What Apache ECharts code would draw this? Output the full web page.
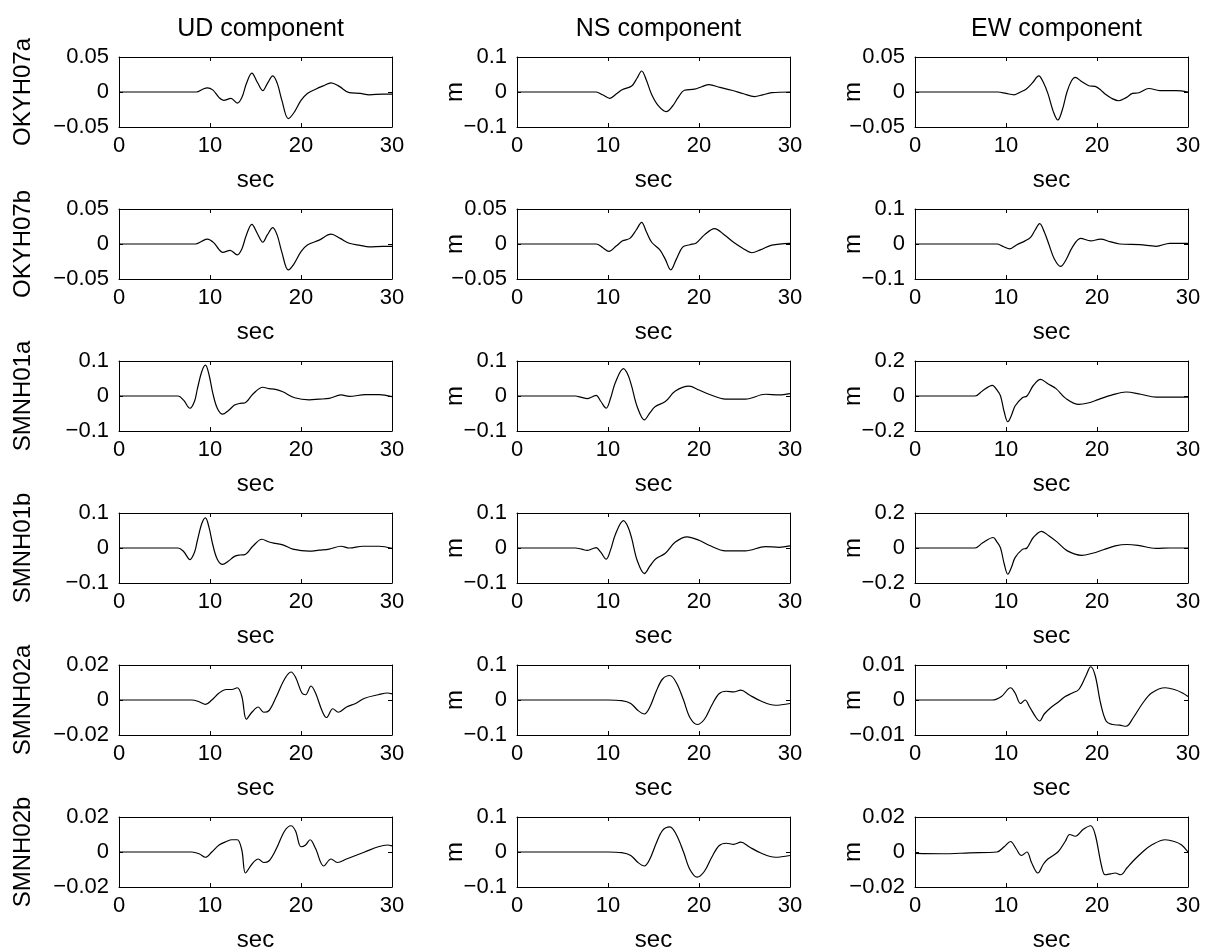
<!DOCTYPE html>
<html>
<head>
<meta charset="utf-8">
<script src="https://cdn.jsdelivr.net/npm/echarts@6/dist/echarts.min.js"></script>
<style>
  html, body { margin: 0; padding: 0; background: #fff; }
  #chart { width: 1208px; height: 950px; }
</style>
</head>
<body>
<div id="chart"></div>
<script>
// Station / component layout
const stationNames = ['OKYH07a', 'OKYH07b', 'SMNH01a', 'SMNH01b', 'SMNH02a', 'SMNH02b'];
const componentTitles = ['UD component', 'NS component', 'EW component'];
const xTicks = [0, 10, 20, 30];
// symmetric y limits (m) per station row: [UD, NS, EW]
const yLimits = [
  [0.05, 0.1, 0.05],
  [0.05, 0.05, 0.1],
  [0.1, 0.1, 0.2],
  [0.1, 0.1, 0.2],
  [0.02, 0.1, 0.01],
  [0.02, 0.1, 0.02]
];

// Waveforms: [time (s), displacement (m)]
const okyh07aUD = [[0,0],[5,0],[8.5,0],[9.2,0.004],[9.7,0.006],[10.3,0.003],[11.0,-0.008],[11.5,-0.012],[12.3,-0.009],[13.0,-0.016],[13.5,-0.008],[14.0,0.012],[14.6,0.027],[15.2,0.014],[15.8,0.002],[16.3,0.012],[16.9,0.023],[17.4,0.012],[17.9,-0.012],[18.6,-0.038],[19.2,-0.030],[20.0,-0.012],[20.7,-0.002],[21.6,0.004],[22.5,0.009],[23.3,0.013],[24.2,0.008],[25.3,-0.001],[26.5,-0.002],[27.5,-0.004],[29,-0.003],[30,-0.003]];
const okyh07aNS = [[0,0],[5,0],[8.7,0],[9.4,-0.008],[10.2,-0.018],[10.9,-0.006],[11.6,0.007],[12.6,0.017],[13.2,0.04],[13.7,0.06],[14.2,0.035],[14.8,-0.007],[15.5,-0.038],[16.4,-0.056],[17.1,-0.04],[17.7,-0.016],[18.4,0.005],[19.5,0.008],[20.3,0.015],[21.1,0.021],[22.3,0.013],[23.6,0.005],[24.9,-0.005],[26.1,-0.013],[27.0,-0.008],[28,-0.002],[30,0]];
const okyh07aEW = [[0,0],[5,0],[9.1,0],[10.0,-0.002],[10.9,-0.004],[11.6,0.0],[12.2,0.004],[12.9,0.013],[13.6,0.023],[14.1,0.014],[14.6,-0.002],[15.2,-0.028],[15.7,-0.04],[16.2,-0.025],[16.7,0.0],[17.2,0.016],[17.6,0.021],[18.3,0.015],[19.1,0.009],[19.8,0.008],[20.4,0.003],[20.9,-0.003],[21.6,-0.009],[22.4,-0.0125],[23.2,-0.008],[23.9,-0.002],[24.6,-0.001],[25.7,0.005],[26.9,0.002],[28.7,0.002],[30,0]];

const okyh07bUD = [[0,0],[5,0],[8.4,0],[9.1,0.004],[9.7,0.007],[10.4,0.002],[11.0,-0.008],[11.4,-0.012],[12.2,-0.009],[13.0,-0.0155],[13.5,-0.007],[14.0,0.013],[14.6,0.028],[15.2,0.015],[15.8,0.0025],[16.3,0.013],[16.9,0.0235],[17.4,0.012],[17.9,-0.012],[18.6,-0.037],[19.2,-0.029],[20.0,-0.011],[20.7,-0.0015],[22.0,0.0055],[23.3,0.014],[24.3,0.008],[25.3,0.001],[26.5,-0.002],[27.5,-0.004],[29,-0.0035],[30,-0.0035]];
const okyh07bNS = [[0,0],[5,0],[8.7,0],[9.4,-0.005],[10.1,-0.0105],[10.9,-0.003],[11.6,0.0045],[12.4,0.008],[13.1,0.02],[13.7,0.031],[14.2,0.018],[14.8,0.0025],[15.7,-0.0085],[16.3,-0.022],[16.9,-0.037],[17.5,-0.022],[18.2,-0.0045],[19.0,-0.001],[19.7,0.0015],[20.6,0.013],[21.7,0.022],[22.8,0.013],[23.8,0.0025],[24.8,-0.006],[25.8,-0.0125],[26.8,-0.008],[28,-0.0015],[30,0.001]];
const okyh07bEW = [[0,0],[5,0],[9.0,0],[9.7,-0.007],[10.4,-0.014],[11.2,-0.002],[12.1,0.009],[12.7,0.019],[13.2,0.04],[13.7,0.058],[14.2,0.035],[14.7,0],[15.3,-0.042],[16.0,-0.064],[16.6,-0.045],[17.3,-0.009],[18.2,0.016],[19.3,0.009],[20.4,0.014],[21.4,0.007],[22.5,0],[24.7,-0.002],[26.5,-0.0065],[28,0.002],[30,0.002]];

const smnh01aUD = [[0,0],[5,0],[6.5,0],[7.1,-0.012],[7.8,-0.035],[8.3,-0.015],[8.6,0.019],[9.1,0.07],[9.5,0.088],[9.9,0.06],[10.3,0.009],[10.8,-0.035],[11.4,-0.052],[12.0,-0.042],[12.7,-0.026],[13.3,-0.021],[13.8,-0.02],[14.7,0.005],[15.8,0.025],[16.5,0.021],[17.2,0.019],[18.0,0.012],[19.3,-0.005],[20.9,-0.011],[22.0,-0.009],[23.1,-0.007],[24.4,0.003],[25.3,-0.001],[27.1,0.004],[28.6,0.004],[30,-0.002]];
const smnh01aNS = [[0,0],[5,0],[6.4,0],[7.1,-0.004],[7.7,-0.0075],[8.3,-0.002],[8.7,0.002],[9.2,-0.015],[9.8,-0.035],[10.3,-0.005],[10.8,0.038],[11.7,0.078],[12.2,0.06],[12.6,0.028],[13.2,-0.03],[14.0,-0.068],[14.6,-0.048],[15.2,-0.03],[16.3,-0.016],[17.4,0.014],[18.9,0.028],[20.0,0.017],[21.1,0.005],[22.9,-0.009],[25.1,-0.009],[27.3,0.005],[28.8,0.003],[30,0.007]];
const smnh01aEW = [[0,0],[5,0],[6.6,0],[7.4,0.029],[8.5,0.061],[9.0,0.035],[9.4,0],[9.8,-0.09],[10.2,-0.147],[10.6,-0.11],[11.0,-0.057],[11.8,-0.01],[12.3,0],[13.0,0.06],[13.8,0.095],[14.6,0.07],[15.5,0.042],[16.6,-0.015],[18.0,-0.048],[19.0,-0.04],[20.2,-0.019],[21.6,0.005],[23.2,0.023],[24.8,0.01],[26.5,-0.006],[30,-0.006]];

const smnh01bUD = [[0,0],[5,0],[6.5,0],[7.1,-0.01],[7.8,-0.033],[8.3,-0.012],[8.6,0.02],[9.1,0.07],[9.5,0.086],[9.9,0.058],[10.3,0.01],[10.8,-0.032],[11.4,-0.047],[12.0,-0.038],[12.7,-0.024],[13.3,-0.02],[13.8,-0.019],[14.7,0.005],[15.7,0.025],[16.5,0.017],[17.2,0.013],[18.0,0.009],[19.1,-0.003],[20.9,-0.009],[22.0,-0.006],[23.1,-0.003],[24.4,0.005],[25.3,0],[26.8,0.005],[28.6,0.005],[30,-0.001]];
const smnh01bNS = [[0,0],[5,0],[6.4,0],[7.1,-0.003],[7.7,-0.007],[8.3,-0.002],[8.7,0.001],[9.2,-0.012],[9.8,-0.032],[10.3,-0.004],[10.8,0.038],[11.7,0.078],[12.2,0.06],[12.6,0.028],[13.2,-0.035],[14.0,-0.073],[14.6,-0.052],[15.2,-0.032],[16.3,-0.015],[17.4,0.017],[18.7,0.032],[20.0,0.022],[21.1,0.008],[22.9,-0.008],[25.1,-0.008],[27.3,0.004],[28.8,0.002],[30,0.006]];
const smnh01bEW = [[0,0],[5,0],[6.6,0],[7.4,0.028],[8.6,0.06],[9.0,0.035],[9.4,0],[9.8,-0.09],[10.2,-0.15],[10.6,-0.11],[11.0,-0.055],[11.8,-0.008],[12.3,0],[13.0,0.06],[13.9,0.095],[14.7,0.07],[15.6,0.035],[16.7,-0.015],[18.3,-0.042],[19.5,-0.03],[20.7,-0.01],[22.0,0.012],[23.3,0.02],[24.5,0.015],[26.5,-0.002],[28,0],[30,0]];

const smnh02aUD = [[0,0],[5,0],[8.0,0],[8.8,-0.001],[9.5,-0.0025],[10.2,0],[11.0,0.004],[11.8,0.006],[12.4,0.006],[13.0,0.007],[13.5,0.002],[14.0,-0.011],[14.6,-0.007],[15.3,-0.004],[15.9,-0.007],[16.5,-0.006],[17.3,0.002],[18.2,0.012],[18.9,0.016],[19.4,0.013],[20.1,0.004],[20.5,0.003],[21.1,0.008],[21.6,0.004],[22.3,-0.006],[22.8,-0.01],[23.5,-0.005],[24.1,-0.007],[25.0,-0.004],[26.0,-0.002],[27.0,0.001],[28.5,0.003],[29.5,0.004],[30,0.0035]];
const smnh02aNS = [[0,0],[5,0],[10,0],[11.5,-0.002],[12.5,-0.01],[13.3,-0.03],[14.0,-0.04],[14.6,-0.02],[15.3,0.025],[16.0,0.06],[16.8,0.07],[17.5,0.05],[18.3,0.0],[19.0,-0.05],[19.8,-0.07],[20.6,-0.055],[21.4,-0.015],[22.2,0.018],[23.0,0.025],[23.8,0.023],[24.6,0.028],[25.5,0.015],[26.8,-0.003],[28.4,-0.015],[30,-0.01]];
const smnh02aEW = [[0,0],[5,0],[8.5,0],[9.5,0.001],[10.5,0.0035],[11.0,0.002],[11.6,-0.001],[12.1,0],[12.6,-0.002],[13.3,-0.005],[13.7,-0.006],[14.2,-0.004],[15.0,-0.002],[15.8,-0.0005],[16.5,0.001],[17.3,0.002],[18.0,0.003],[18.8,0.007],[19.3,0.0095],[19.8,0.007],[20.4,-0.001],[21.0,-0.006],[21.7,-0.007],[22.5,-0.0072],[23.2,-0.0075],[24.0,-0.005],[25.0,-0.001],[26.0,0.002],[27.5,0.0035],[28.5,0.003],[29.4,0.002],[30,0.001]];

const smnh02bUD = [[0,0],[5,0],[8.0,0],[8.8,-0.001],[9.5,-0.003],[10.2,0],[11.0,0.004],[11.8,0.006],[12.4,0.007],[13.0,0.007],[13.5,0.001],[13.9,-0.012],[14.6,-0.007],[15.3,-0.004],[15.9,-0.006],[16.5,-0.005],[17.3,0.002],[18.2,0.012],[18.9,0.015],[19.4,0.012],[20.0,0.003],[20.5,0.004],[21.0,0.007],[21.6,0.002],[22.5,-0.008],[23.3,-0.004],[24.0,-0.006],[25.0,-0.004],[26.0,-0.002],[27.0,0],[28.5,0.003],[29.5,0.004],[30,0.0035]];
const smnh02bNS = [[0,0],[5,0],[10,0],[11.5,-0.002],[12.5,-0.01],[13.3,-0.03],[14.0,-0.04],[14.6,-0.02],[15.3,0.025],[16.0,0.062],[16.8,0.072],[17.5,0.05],[18.3,0.0],[19.0,-0.05],[19.8,-0.072],[20.6,-0.055],[21.4,-0.015],[22.2,0.018],[23.0,0.025],[23.8,0.022],[24.6,0.028],[25.5,0.015],[26.8,-0.003],[28.4,-0.015],[30,-0.01]];
const smnh02bEW = [[0,-0.0008],[3,-0.001],[6,-0.0005],[9,0],[9.8,0.003],[10.5,0.006],[11.1,0.002],[11.7,-0.002],[12.3,0],[12.8,-0.006],[13.5,-0.012],[14.1,-0.007],[14.6,-0.004],[15.7,0],[16.5,0.006],[17.0,0.01],[17.6,0.009],[18.5,0.013],[19.3,0.015],[19.8,0.01],[20.5,-0.008],[20.9,-0.013],[21.5,-0.0125],[22.0,-0.012],[22.6,-0.013],[23.3,-0.009],[24.0,-0.005],[25.0,0],[26.0,0.004],[27.5,0.007],[28.5,0.006],[29.3,0.004],[30,0]];

const waveforms = [
  [okyh07aUD, okyh07aNS, okyh07aEW],
  [okyh07bUD, okyh07bNS, okyh07bEW],
  [smnh01aUD, smnh01aNS, smnh01aEW],
  [smnh01bUD, smnh01bNS, smnh01bEW],
  [smnh02aUD, smnh02aNS, smnh02aEW],
  [smnh02bUD, smnh02bNS, smnh02bEW]
];

// ---- layout ----
const FONT = '"Liberation Sans", Arial, Helvetica, sans-serif';
const colLeft = [119, 517, 915];
const plotW = 273;
const rowTop0 = 57, rowStep = 152, plotH = 70;
const tickFont = 22, labelFont = 24, titleFont = 25;

function fmt(v) {
  if (Math.abs(v) < 1e-12) return '0';
  const s = String(+Math.abs(v).toFixed(4));
  return (v < 0 ? '\u2212' : '') + s;
}

const grids = [], xAxes = [], yAxes = [], series = [], titles = [];
const black = '#000';

componentTitles.forEach((t, c) => {
  titles.push({
    text: t,
    left: colLeft[c] + plotW / 2,
    top: 12,
    textAlign: 'center',
    textStyle: { fontFamily: FONT, fontSize: titleFont, fontWeight: 'normal', color: black }
  });
});

stationNames.forEach((name, r) => {
  for (let c = 0; c < 3; c++) {
    const g = grids.length;
    const lim = yLimits[r][c];
    grids.push({ left: colLeft[c], top: rowTop0 + rowStep * r, width: plotW, height: plotH, outerBoundsMode: 'none' });
    const lineStyle = { color: black, width: 1 };
    // bottom x axis
    xAxes.push({
      gridIndex: g, type: 'value', position: 'bottom',
      min: xTicks[0], max: xTicks[xTicks.length - 1], interval: xTicks[1] - xTicks[0],
      axisLine: { show: true, onZero: false, lineStyle },
      axisTick: { show: true, inside: true, length: 4, lineStyle },
      axisLabel: { show: true, color: black, fontFamily: FONT, fontSize: tickFont, margin: 8, formatter: fmt },
      splitLine: { show: false },
      name: 'sec', nameLocation: 'middle', nameGap: 41, nameMoveOverlap: false,
      nameTextStyle: { color: black, fontFamily: FONT, fontSize: labelFont }
    });
    // top x axis (box edge with ticks)
    xAxes.push({
      gridIndex: g, type: 'value', position: 'top',
      min: xTicks[0], max: xTicks[xTicks.length - 1], interval: xTicks[1] - xTicks[0],
      axisLine: { show: true, onZero: false, lineStyle },
      axisTick: { show: true, inside: true, length: 4, lineStyle },
      axisLabel: { show: false },
      splitLine: { show: false }
    });
    // left y axis
    yAxes.push({
      gridIndex: g, type: 'value', position: 'left',
      min: -lim, max: lim, interval: lim,
      axisLine: { show: true, onZero: false, lineStyle },
      axisTick: { show: true, inside: true, length: 4, lineStyle },
      axisLabel: { show: true, color: black, fontFamily: FONT, fontSize: tickFont, margin: 10, formatter: fmt },
      splitLine: { show: false },
      name: c === 0 ? name : 'm',
      nameLocation: 'middle', nameRotate: 90, nameMoveOverlap: false,
      nameGap: c === 0 ? 84 : 50,
      nameTextStyle: { color: black, fontFamily: FONT, fontSize: labelFont }
    });
    // right y axis (box edge with ticks)
    yAxes.push({
      gridIndex: g, type: 'value', position: 'right',
      min: -lim, max: lim, interval: lim,
      axisLine: { show: true, onZero: false, lineStyle },
      axisTick: { show: true, inside: true, length: 4, lineStyle },
      axisLabel: { show: false },
      splitLine: { show: false }
    });
    series.push({
      type: 'line',
      xAxisIndex: 2 * g, yAxisIndex: 2 * g,
      data: waveforms[r][c],
      showSymbol: false,
      smooth: 0.35,
      lineStyle: { color: black, width: 1.2 },
      silent: true,
      animation: false
    });
  }
});

const chart = echarts.init(document.getElementById('chart'), null, { renderer: 'canvas' });
chart.setOption({
  backgroundColor: '#fff',
  animation: false,
  title: titles,
  grid: grids,
  xAxis: xAxes,
  yAxis: yAxes,
  series: series
});
</script>
</body>
</html>
